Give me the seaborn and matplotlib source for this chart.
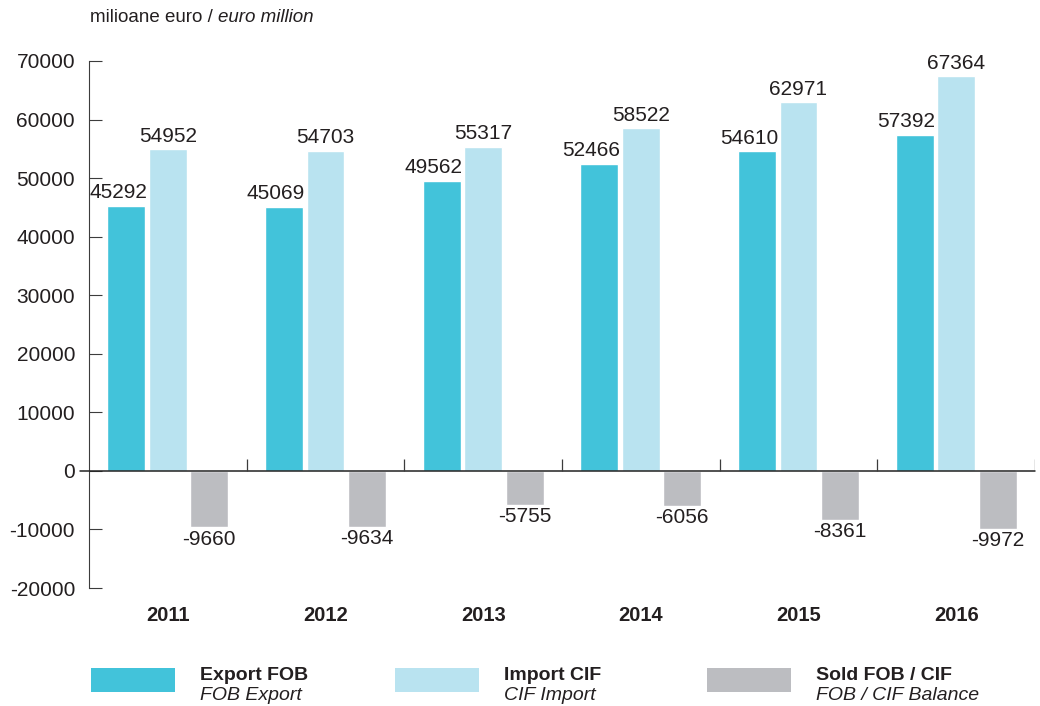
import matplotlib
matplotlib.use("Agg")
import matplotlib.pyplot as plt
from matplotlib.patches import Rectangle
from matplotlib.transforms import offset_copy
import pandas as pd
import seaborn as sns

# Trade balance data, million euro
years = ["2011", "2012", "2013", "2014", "2015", "2016"]
export_fob = [45292, 45069, 49562, 52466, 54610, 57392]
import_cif = [54952, 54703, 55317, 58522, 62971, 67364]
balance_fob_cif = [-9660, -9634, -5755, -6056, -8361, -9972]

series_names = ["Export FOB", "Import CIF", "Sold FOB / CIF"]
series_sub = ["FOB Export", "CIF Import", "FOB / CIF Balance"]
colors = ["#42C3DA", "#B9E3F0", "#BCBDC1"]
y_ticks = list(range(-20000, 70001, 10000))

TXT = "#231F20"
LINE = "#3C3C3C"

df = pd.DataFrame({
    "year": years * 3,
    "series": [series_names[0]] * 6 + [series_names[1]] * 6 + [series_names[2]] * 6,
    "value": export_fob + import_cif + balance_fob_cif,
})

sns.set_theme(style="white")
plt.rcParams["font.family"] = ["Liberation Sans", "DejaVu Sans"]

fig = plt.figure(figsize=(10.4, 7.06), dpi=100)
ax = fig.add_axes([89 / 1040, 1 - 588 / 706, (1035 - 89) / 1040, (588 - 61) / 706])

sns.barplot(data=df, x="year", y="value", hue="series", hue_order=series_names,
            order=years, palette=colors, width=0.79, gap=0.09, saturation=1,
            legend=False, ax=ax)

ax.set_xlim(-0.5, len(years) - 0.5)
ax.set_ylim(-20000, 70000)
ax.set_yticks(y_ticks)
ax.set_yticklabels([str(v) for v in y_ticks])
ax.set_xlabel("")
ax.set_ylabel("")

for s in ["top", "right", "bottom"]:
    ax.spines[s].set_visible(False)
ax.spines["left"].set_color(LINE)
ax.spines["left"].set_linewidth(0.8)

ax.tick_params(axis="y", direction="in", length=9.5, width=0.8, color=LINE,
               pad=10, labelsize=15, labelcolor=TXT, left=True)
ax.tick_params(axis="x", length=0, pad=13, labelsize=14.5, labelcolor=TXT)
for lab in ax.get_xticklabels():
    lab.set_fontweight("bold")

# zero line and category separators
ax.axhline(0, xmin=-0.01, xmax=1.0, color="#222222", lw=1.1, clip_on=False, zorder=5)
ax.vlines([i + 0.5 for i in range(len(years))], 0, 2000, color=LINE, lw=0.9, zorder=5)

# value labels
for k, cont in enumerate(ax.containers):
    for bar in cont:
        h = bar.get_height()
        if abs(h) < 1:
            continue
        x = bar.get_x() + bar.get_width() / 2
        if h >= 0:
            dx = -8 / 1.3889 if k == 0 else 0
            tr = offset_copy(ax.transData, fig=fig, x=dx, y=2.6, units="points")
            ax.text(x, h, f"{int(round(h))}", transform=tr, ha="center", va="bottom",
                    fontsize=15, color=TXT)
        else:
            tr = offset_copy(ax.transData, fig=fig, x=0, y=-1.5, units="points")
            ax.text(x, h, f"{int(round(h))}", transform=tr, ha="center", va="top",
                    fontsize=15, color=TXT)

# unit caption
t1 = fig.text(90 / 1040, 1 - 17 / 706, "milioane euro / ", fontsize=13.5,
              color=TXT, va="center", ha="left")
fig.canvas.draw()
bb = t1.get_window_extent()
fig.text(bb.x1 / fig.bbox.width, 1 - 17 / 706, "euro million", fontsize=13.5,
         color=TXT, va="center", ha="left", style="italic")

# legend
patch_x = [91, 395, 707]
for px, c, name, sub in zip(patch_x, colors, series_names, series_sub):
    fig.patches.append(Rectangle((px / 1040, 1 - 692 / 706), 84 / 1040, 24 / 706,
                                 transform=fig.transFigure, color=c, lw=0))
    fig.text((px + 109) / 1040, 1 - 676 / 706, name, fontsize=14, fontweight="bold",
             color=TXT, va="center", ha="left")
    fig.text((px + 109) / 1040, 1 - 696 / 706, sub, fontsize=14, style="italic",
             color=TXT, va="center", ha="left")

fig.savefig("out.png", dpi=100)
